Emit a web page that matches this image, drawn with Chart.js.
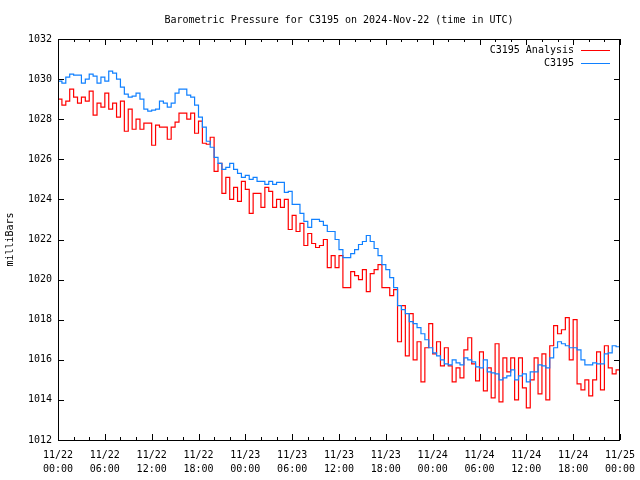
<!DOCTYPE html>
<html>
<head>
<meta charset="utf-8">
<script src="https://cdn.jsdelivr.net/npm/chart.js@4.4.1/dist/chart.umd.min.js"></script>
<style>
  html, body { margin: 0; padding: 0; background: #fff; }
  #wrap { width: 640px; height: 480px; }
</style>
</head>
<body>
<div id="wrap"><canvas id="chart"></canvas></div>
<script>
// readings every 30 minutes starting 11/22 00:00 UTC
const stepHours = 0.5;
const seriesNames = ['C3195 Analysis', 'C3195'];

const analysis = [
  1028.2, 1029.0, 1028.7, 1028.9, 1029.5, 1029.1, 1028.8, 1029.1, 1028.9, 1029.4, 1028.2, 1028.8,
  1028.6, 1029.3, 1028.5, 1028.8, 1028.1, 1028.9, 1027.4, 1028.5, 1027.5, 1028.0, 1027.5, 1027.8,
  1027.8, 1026.7, 1027.7, 1027.6, 1027.6, 1027.0, 1027.6, 1027.85, 1028.3, 1028.3, 1028.0, 1028.3,
  1027.3, 1027.9, 1026.8, 1026.75, 1027.1, 1025.4, 1025.8, 1024.3, 1025.1, 1024.0, 1024.6, 1023.9,
  1024.9, 1024.5, 1023.3, 1024.3, 1024.3, 1023.6, 1024.6, 1024.4, 1023.6, 1024.0, 1023.6, 1024.0,
  1022.5, 1023.2, 1022.4, 1022.8, 1021.7, 1022.3, 1021.8, 1021.6, 1021.7, 1022.0, 1020.6, 1021.2,
  1020.6, 1021.2, 1019.6, 1019.6, 1020.4, 1020.2, 1020.0, 1020.5, 1019.4, 1020.3, 1020.5, 1020.75,
  1019.6, 1019.6, 1019.2, 1019.5, 1016.9, 1018.7, 1016.2, 1018.3, 1016.0, 1016.9, 1014.9, 1016.6,
  1017.8, 1016.3, 1016.9, 1015.7, 1016.6, 1015.7, 1014.9, 1015.6, 1015.1, 1016.5, 1017.1, 1015.8,
  1014.95, 1016.4, 1014.45, 1015.6, 1014.1, 1016.8, 1013.9, 1016.1, 1015.4, 1016.1, 1014.0, 1016.1,
  1014.6, 1013.6, 1015.0, 1016.1, 1014.3, 1016.3, 1014.0, 1016.7, 1017.7, 1017.3, 1017.5, 1018.1,
  1016.0, 1018.0, 1014.8, 1014.5, 1015.0, 1014.2, 1015.0, 1016.4, 1014.5, 1016.7, 1015.6, 1015.3,
  1015.5
];

const station = [
  1029.7, 1029.9, 1029.8, 1030.1, 1030.25, 1030.2, 1030.2, 1029.8, 1030.0, 1030.25, 1030.15, 1029.8,
  1030.1, 1029.9, 1030.4, 1030.3, 1030.0, 1029.6, 1029.25, 1029.1, 1029.15, 1029.3, 1029.0, 1028.5,
  1028.4, 1028.45, 1028.5, 1028.9, 1028.8, 1028.6, 1028.8, 1029.3, 1029.5, 1029.5, 1029.2, 1029.1,
  1028.7, 1028.1, 1027.6, 1026.9, 1026.6, 1026.1, 1025.8, 1025.5, 1025.6, 1025.8, 1025.5, 1025.3,
  1025.1, 1025.2, 1025.0, 1025.1, 1024.9, 1024.9, 1024.75, 1024.9, 1024.75, 1024.85, 1024.85, 1024.35,
  1024.4, 1023.75, 1023.75, 1023.3, 1022.9, 1022.6, 1023.0, 1023.0, 1022.9, 1022.7, 1022.4, 1022.4,
  1022.0, 1021.5, 1021.1, 1021.1, 1021.3, 1021.5, 1021.75, 1021.9, 1022.2, 1021.9, 1021.55, 1021.2,
  1020.75, 1020.5, 1020.1, 1019.6, 1018.7, 1018.5, 1018.3, 1017.9, 1017.8, 1017.6, 1017.3, 1017.0,
  1016.6, 1016.35, 1016.2, 1016.0, 1015.8, 1015.75, 1016.0, 1015.85, 1015.75, 1016.1, 1016.0, 1015.9,
  1015.65, 1015.6, 1016.0, 1015.4, 1015.35, 1015.3, 1015.0, 1015.1, 1015.2, 1015.5, 1015.0, 1015.2,
  1015.3, 1014.9, 1015.4, 1015.4, 1015.75, 1015.7, 1015.6, 1016.1, 1016.6, 1016.9, 1016.8, 1016.7,
  1016.6, 1016.6, 1016.5, 1016.0, 1015.75, 1015.75, 1015.85, 1015.8, 1015.8, 1016.3, 1016.35, 1016.7,
  1016.65
];

const dayLabels = ['11/22', '11/23', '11/24', '11/25'];
const xMajor = 6, xMinor = 2, xMax = 72;
const yMin = 1012, yMax = 1032, yStep = 2;

const toPoints = arr => arr.map((v, i) => ({ x: i * stepHours, y: v }));

Chart.defaults.font.family = '"DejaVu Sans Mono", "Liberation Mono", monospace';
Chart.defaults.font.size = 10;
Chart.defaults.color = '#000';

// gnuplot style frame, inward ticks and legend with sample line on the right
const frame = {
  id: 'frame',
  afterDraw(chart) {
    const { ctx, chartArea: a, scales: { x, y } } = chart;
    ctx.save();
    ctx.strokeStyle = '#000';
    ctx.lineWidth = 1;
    ctx.strokeRect(a.left + 0.5, a.top + 0.5, a.right - a.left - 1, a.bottom - a.top);
    ctx.beginPath();
    for (let h = 0; h <= xMax; h += xMinor) {
      const px = Math.round(x.getPixelForValue(h)) + 0.5;
      const len = h % xMajor === 0 ? 6 : 3;
      ctx.moveTo(px, a.bottom); ctx.lineTo(px, a.bottom - len);
      ctx.moveTo(px, a.top); ctx.lineTo(px, a.top + len);
    }
    for (let v = yMin; v <= yMax; v += yStep) {
      const py = Math.round(y.getPixelForValue(v)) + 0.5;
      ctx.moveTo(a.left, py); ctx.lineTo(a.left + 6, py);
      ctx.moveTo(a.right, py); ctx.lineTo(a.right - 6, py);
    }
    ctx.stroke();

    ctx.font = '10px ' + Chart.defaults.font.family;
    ctx.textAlign = 'right';
    ctx.textBaseline = 'middle';
    chart.data.datasets.forEach((ds, i) => {
      const ly = a.top + 11 + i * 13;
      ctx.fillStyle = '#000';
      ctx.fillText(ds.label, a.right - 46, ly);
      ctx.strokeStyle = ds.borderColor;
      ctx.beginPath();
      ctx.moveTo(a.right - 39, Math.round(ly) + 0.5);
      ctx.lineTo(a.right - 10, Math.round(ly) + 0.5);
      ctx.stroke();
    });
    ctx.restore();
  }
};

new Chart(document.getElementById('chart'), {
  type: 'line',
  data: {
    datasets: [{
      label: seriesNames[0],
      data: toPoints(analysis),
      borderColor: '#ff0000',
      borderWidth: 1.2,
      pointRadius: 0,
      stepped: 'after',
      order: 1
    }, {
      label: seriesNames[1],
      data: toPoints(station),
      borderColor: '#1080ff',
      borderWidth: 1.2,
      pointRadius: 0,
      stepped: 'after',
      order: 0
    }]
  },
  options: {
    responsive: true,
    maintainAspectRatio: false,
    animation: false,
    layout: { padding: { left: 0, right: 20, top: 0, bottom: 0 } },
    plugins: {
      legend: { display: false },
      tooltip: { enabled: false },
      title: {
        display: true,
        text: 'Barometric Pressure for C3195 on 2024-Nov-22 (time in UTC)',
        fullSize: false,
        color: '#000',
        font: { size: 10, weight: 'normal' },
        padding: { top: 14, bottom: 13 }
      }
    },
    scales: {
      x: {
        type: 'linear',
        min: 0,
        max: xMax,
        grid: { display: false, drawTicks: false },
        border: { display: false },
        ticks: {
          stepSize: xMajor,
          maxRotation: 0,
          autoSkip: false,
          padding: 8,
          font: { size: 10, lineHeight: 1.4 },
          callback: v => {
            const hh = v % 24;
            return [dayLabels[Math.floor(v / 24)], String(hh).padStart(2, '0') + ':00'];
          }
        },
        afterFit: s => { s.height = 40; s.paddingLeft = 0; s.paddingRight = 0; }
      },
      y: {
        min: yMin,
        max: yMax,
        grid: { display: false, drawTicks: false },
        border: { display: false },
        ticks: { stepSize: yStep, padding: 6, callback: v => String(v) },
        title: { display: true, text: 'milliBars', padding: { top: 4, bottom: 0 }, font: { size: 10 } },
        afterFit: s => { s.width = 58; s.paddingTop = 0; s.paddingBottom = 0; }
      }
    }
  },
  plugins: [frame]
});
</script>
</body>
</html>
